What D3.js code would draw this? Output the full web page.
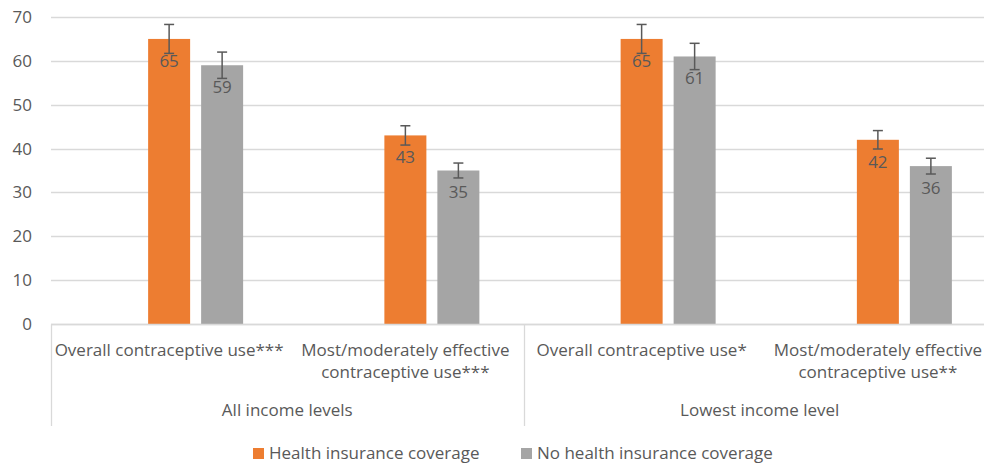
<!DOCTYPE html>
<html>
<head>
<meta charset="utf-8">
<script src="https://cdn.jsdelivr.net/npm/d3@7"></script>
<style>
  body { margin: 0; background: #fff; }
  text { font-family: "Open Sans", sans-serif; fill: #595959; }
</style>
</head>
<body>
<script>
var groups = ['All income levels', 'Lowest income level'];
var categories = [
  ['Overall contraceptive use***'],
  ['Most/moderately effective', 'contraceptive use***'],
  ['Overall contraceptive use*'],
  ['Most/moderately effective', 'contraceptive use**']
];
var seriesNames = ['Health insurance coverage', 'No health insurance coverage'];
var insured = [65, 43, 65, 42];
var uninsured = [59, 35, 61, 36];
var insuredErr = [3.3, 2.2, 3.3, 2.1];
var uninsuredErr = [3.0, 1.7, 3.0, 1.8];
var yTicks = [0, 10, 20, 30, 40, 50, 60, 70];
var colors = ['#ED7D31', '#A5A5A5'];

var width = 984, height = 466;
var margin = { top: 17, left: 51, bottom: 142 };
var plotRight = 996; // chart runs past the right edge of the picture
var fontSize = '17px';

var svg = d3.select('body').append('svg')
  .attr('width', width)
  .attr('height', height);

var x = d3.scaleBand()
  .domain(d3.range(categories.length))
  .range([margin.left, plotRight])
  .padding(0);

var y = d3.scaleLinear()
  .domain([0, 70])
  .range([height - margin.bottom, margin.top]);

// gridlines
svg.append('g')
  .selectAll('line')
  .data(yTicks)
  .join('line')
    .attr('x1', margin.left)
    .attr('x2', width)
    .attr('y1', function(d) { return Math.round(y(d)) + 0.5; })
    .attr('y2', function(d) { return Math.round(y(d)) + 0.5; })
    .attr('stroke', '#d9d9d9')
    .attr('stroke-width', 1.3);

var yAxis = svg.append('g')
  .attr('transform', 'translate(32,0)')
  .call(d3.axisLeft(y).tickValues(yTicks).tickSize(0).tickPadding(0));
yAxis.select('.domain').remove();
yAxis.selectAll('text')
  .style('font-size', fontSize)
  .attr('fill', '#595959');

// bars: orange on the category centre, grey one step to the right
var barW = 42, step = 53;
var rows = categories.map(function(c, i) {
  return [
    { i: i, s: 0, v: insured[i], e: insuredErr[i] },
    { i: i, s: 1, v: uninsured[i], e: uninsuredErr[i] }
  ];
});
var flat = d3.merge(rows);
function cx(d) { return x(d.i) + x.bandwidth() / 2 + d.s * step; }

svg.append('g')
  .selectAll('rect')
  .data(flat)
  .join('rect')
    .attr('x', function(d) { return cx(d) - barW / 2; })
    .attr('y', function(d) { return y(d.v); })
    .attr('width', barW)
    .attr('height', function(d) { return y(0) - y(d.v); })
    .attr('fill', function(d) { return colors[d.s]; });

// error bars
var err = svg.append('g')
  .attr('stroke', '#595959')
  .attr('stroke-width', 1.5)
  .selectAll('g')
  .data(flat)
  .join('g');
err.append('line')
  .attr('x1', cx).attr('x2', cx)
  .attr('y1', function(d) { return y(d.v + d.e); })
  .attr('y2', function(d) { return y(d.v - d.e); });
err.append('line')
  .attr('x1', function(d) { return cx(d) - 5; })
  .attr('x2', function(d) { return cx(d) + 5; })
  .attr('y1', function(d) { return y(d.v + d.e); })
  .attr('y2', function(d) { return y(d.v + d.e); });
err.append('line')
  .attr('x1', function(d) { return cx(d) - 5; })
  .attr('x2', function(d) { return cx(d) + 5; })
  .attr('y1', function(d) { return y(d.v - d.e); })
  .attr('y2', function(d) { return y(d.v - d.e); });

// value labels
svg.append('g')
  .selectAll('text')
  .data(flat)
  .join('text')
    .attr('x', cx)
    .attr('y', function(d) { return y(d.v) + 22; })
    .attr('dy', '0.35em')
    .attr('text-anchor', 'middle')
    .style('font-size', fontSize)
    .attr('fill', '#404040')
    .text(function(d) { return d.v; });

// axis base line and category separators
var y0 = Math.round(y(0)) + 0.5;
svg.append('line')
  .attr('x1', margin.left).attr('x2', width)
  .attr('y1', y0).attr('y2', y0)
  .attr('stroke', '#d9d9d9').attr('stroke-width', 1.3);

svg.append('g')
  .selectAll('line')
  .data([0, 2])
  .join('line')
    .attr('x1', function(d) { return Math.round(x(d)) + 0.5; })
    .attr('x2', function(d) { return Math.round(x(d)) + 0.5; })
    .attr('y1', y0)
    .attr('y2', 426)
    .attr('stroke', '#d9d9d9')
    .attr('stroke-width', 1.3);

// category labels
var catText = svg.append('g')
  .selectAll('text')
  .data(categories)
  .join('text')
    .attr('text-anchor', 'middle')
    .style('font-size', fontSize)
    .attr('transform', function(d, i) { return 'translate(' + (x(i) + x.bandwidth() / 2) + ',356)'; });
catText.selectAll('tspan')
  .data(function(d) { return d; })
  .join('tspan')
    .attr('x', 0)
    .attr('dy', function(d, j) { return j === 0 ? 0 : 22; })
    .text(function(d) { return d; });

svg.append('g')
  .selectAll('text')
  .data(groups)
  .join('text')
    .attr('x', function(d, i) { return x(i * 2) + x.bandwidth(); })
    .attr('y', 416)
    .attr('text-anchor', 'middle')
    .style('font-size', fontSize)
    .text(function(d) { return d; });

// legend
var legendX = [253, 521];
var legend = svg.append('g')
  .selectAll('g')
  .data(seriesNames)
  .join('g')
    .attr('transform', function(d, i) { return 'translate(' + legendX[i] + ',448)'; });
legend.append('rect')
  .attr('width', 11).attr('height', 11)
  .attr('fill', function(d, i) { return colors[i]; });
legend.append('text')
  .attr('x', 16)
  .attr('y', 5.5)
  .attr('dy', '0.35em')
  .style('font-size', fontSize)
  .text(function(d) { return d; });
</script>
</body>
</html>
